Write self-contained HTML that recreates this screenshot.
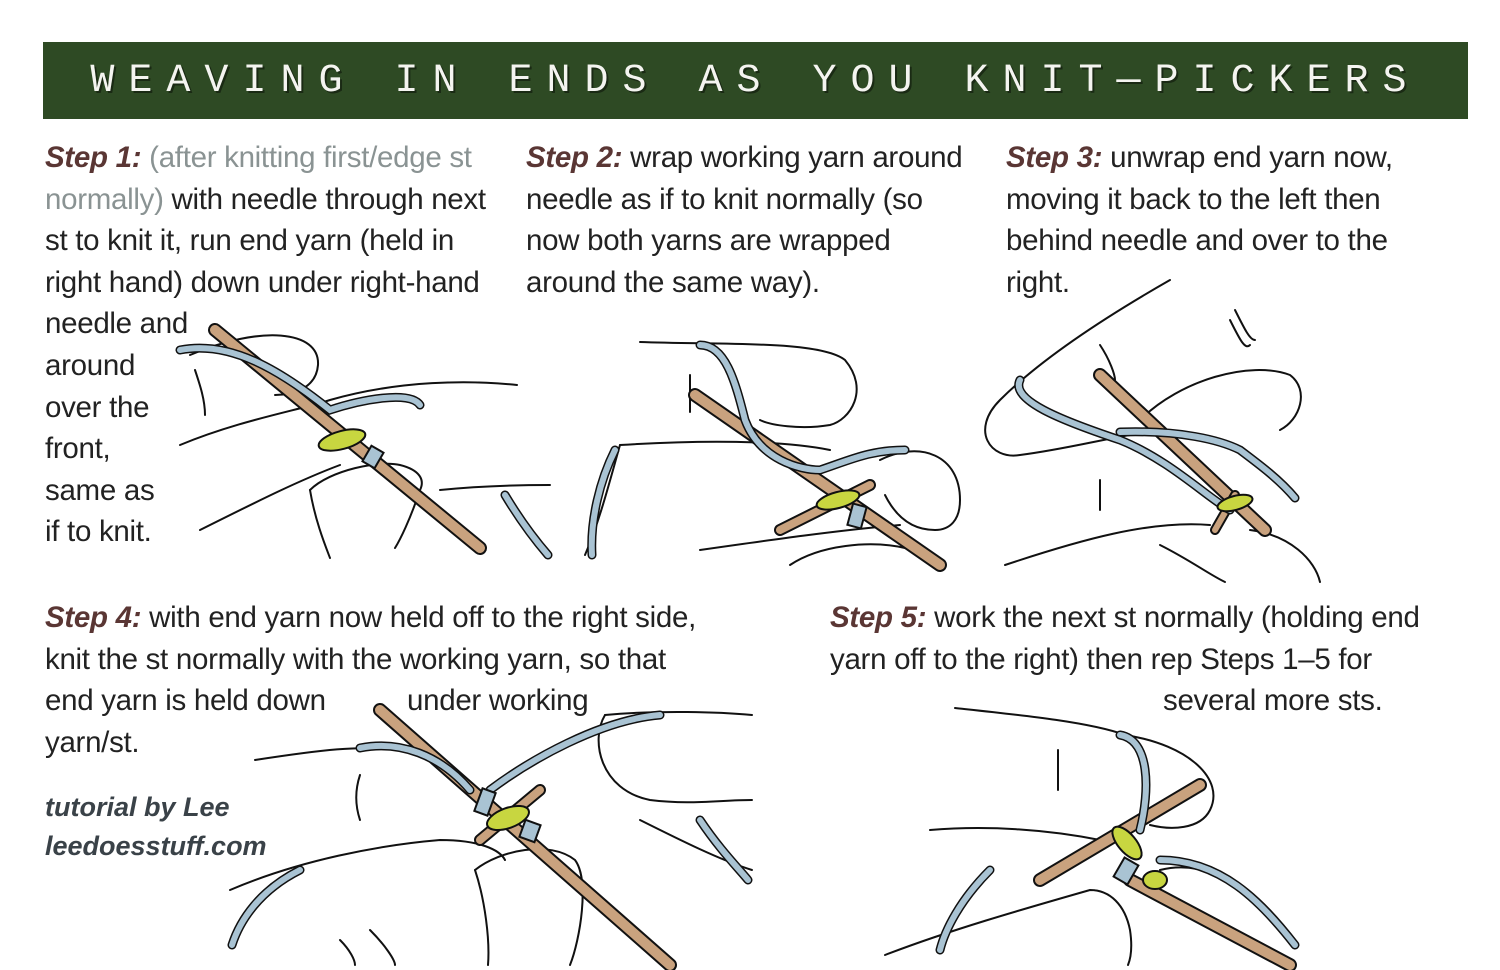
<!DOCTYPE html>
<html><head><meta charset="utf-8">
<style>
html,body{margin:0;padding:0;background:#fff;}
body{width:1500px;height:970px;position:relative;overflow:hidden;font-family:"Liberation Sans Narrow","Liberation Sans",sans-serif;}
.hdr{position:absolute;left:43px;top:42px;width:1425px;height:77px;background:#2e4a24;}
.title{position:absolute;left:43px;top:57px;width:1425px;text-align:center;color:#f4f4f0;font-family:"Liberation Mono",monospace;font-size:40px;letter-spacing:14px;line-height:50px;font-weight:normal;text-shadow:2px 2px 0 #1a2a14;}
.l{position:absolute;font-size:29.5px;letter-spacing:-0.3px;color:#222;white-space:nowrap;line-height:36px;}
.s{font-weight:bold;font-style:italic;color:#5a3634;}
.g{color:#8a9393;}
.cr{position:absolute;font-size:27px;font-weight:bold;font-style:italic;color:#3a4248;font-family:"Liberation Sans",sans-serif;}
svg{position:absolute;left:0;top:0;}
</style></head><body>
<div class="hdr"></div>
<div class="title">WEAVING IN ENDS AS YOU KNIT—PICKERS</div>

<div class="l" style="left:45px;top:140px"><span class="s">Step 1:</span> <span class="g">(after knitting first/edge st</span></div>
<div class="l" style="left:45px;top:182px"><span class="g">normally)</span> with needle through next</div>
<div class="l" style="left:45px;top:223px">st to knit it, run end yarn (held in</div>
<div class="l" style="left:45px;top:265px">right hand) down under right-hand</div>
<div class="l" style="left:45px;top:306px">needle and</div>
<div class="l" style="left:45px;top:348px">around</div>
<div class="l" style="left:45px;top:390px">over the</div>
<div class="l" style="left:45px;top:431px">front,</div>
<div class="l" style="left:45px;top:473px">same as</div>
<div class="l" style="left:45px;top:514px">if to knit.</div>

<div class="l" style="left:526px;top:140px"><span class="s">Step 2:</span> wrap working yarn around</div>
<div class="l" style="left:526px;top:182px">needle as if to knit normally (so</div>
<div class="l" style="left:526px;top:223px">now both yarns are wrapped</div>
<div class="l" style="left:526px;top:265px">around the same way).</div>

<div class="l" style="left:1006px;top:140px"><span class="s">Step 3:</span> unwrap end yarn now,</div>
<div class="l" style="left:1006px;top:182px">moving it back to the left then</div>
<div class="l" style="left:1006px;top:223px">behind needle and over to the</div>
<div class="l" style="left:1006px;top:265px">right.</div>

<div class="l" style="left:45px;top:600px"><span class="s">Step 4:</span> with end yarn now held off to the right side,</div>
<div class="l" style="left:45px;top:642px">knit the st normally with the working yarn, so that</div>
<div class="l" style="left:45px;top:683px">end yarn is held down</div>
<div class="l" style="left:407px;top:683px">under working</div>
<div class="l" style="left:45px;top:725px">yarn/st.</div>

<div class="l" style="left:830px;top:600px"><span class="s">Step 5:</span> work the next st normally (holding end</div>
<div class="l" style="left:830px;top:642px">yarn off to the right) then rep Steps 1–5 for</div>
<div class="l" style="left:1163px;top:683px">several more sts.</div>

<div class="cr" style="left:45px;top:792px">tutorial by Lee</div>
<div class="cr" style="left:45px;top:831px">leedoesstuff.com</div>

<svg width="1500" height="970" viewBox="0 0 1500 970" fill="none" stroke="#111" stroke-width="2" stroke-linecap="round">
<!-- Step 1 -->
<path d="M190 355 C260 325 320 330 318 365 C316 390 290 395 275 395"/>
<path d="M195 370 C200 385 205 400 205 415"/>
<path d="M180 445 C240 420 300 410 330 400 C400 380 470 380 517 385"/>
<path d="M200 530 C260 500 300 480 340 465"/>
<path d="M310 490 C330 470 380 460 400 465 C420 470 425 480 420 490 C410 520 400 540 395 548"/>
<path d="M310 490 C315 520 325 545 330 558"/>
<path d="M440 490 C490 485 530 485 550 485"/>
<g><line x1="215" y1="330" x2="480" y2="548" stroke="#111" stroke-width="14"/><line x1="215" y1="330" x2="480" y2="548" stroke="#c9a27e" stroke-width="10"/></g>
<path d="M180 350 C230 340 280 370 330 410 C360 400 410 390 420 405" stroke="#111" stroke-width="9"/>
<path d="M180 350 C230 340 280 370 330 410 C360 400 410 390 420 405" stroke="#a9c3d3" stroke-width="6"/>
<path d="M505 495 C520 520 535 540 548 555" stroke="#111" stroke-width="9"/>
<path d="M505 495 C520 520 535 540 548 555" stroke="#a9c3d3" stroke-width="6"/>
<ellipse cx="342" cy="440" rx="24" ry="9" fill="#c8d640" transform="rotate(-15 342 440)"/>
<rect x="366" y="448" width="14" height="18" fill="#a9c3d3" transform="rotate(30 373 457)"/>
<!-- Step 2 -->
<path d="M640 342 C720 345 820 340 845 360 C870 390 850 420 830 425 C800 430 770 425 760 420"/>
<path d="M690 375 L690 412"/>
<path d="M585 555 C600 520 610 480 620 445 C700 440 780 440 830 450"/>
<path d="M880 460 C920 440 960 455 960 500 C960 520 950 530 935 530 C910 530 895 515 885 495"/>
<path d="M700 550 C770 540 840 530 900 525"/>
<path d="M790 565 C820 545 870 540 905 548"/>
<g><line x1="695" y1="395" x2="940" y2="565" stroke="#111" stroke-width="14"/><line x1="695" y1="395" x2="940" y2="565" stroke="#c9a27e" stroke-width="10"/></g>
<line x1="870" y1="485" x2="780" y2="530" stroke="#111" stroke-width="12"/><line x1="870" y1="485" x2="780" y2="530" stroke="#c9a27e" stroke-width="8"/>
<path d="M700 345 C725 345 735 380 745 420 C760 460 800 470 820 470 C850 460 870 450 905 450" stroke="#111" stroke-width="9"/>
<path d="M700 345 C725 345 735 380 745 420 C760 460 800 470 820 470 C850 460 870 450 905 450" stroke="#a9c3d3" stroke-width="6"/>
<path d="M615 450 C600 480 590 520 592 555" stroke="#111" stroke-width="9"/><path d="M615 450 C600 480 590 520 592 555" stroke="#a9c3d3" stroke-width="6"/>
<ellipse cx="838" cy="500" rx="22" ry="8" fill="#c8d640" transform="rotate(-15 838 500)"/>
<rect x="850" y="505" width="14" height="22" fill="#a9c3d3" transform="rotate(15 857 516)"/>
<!-- Step 3 -->
<path d="M1170 280 C1100 320 1040 360 1000 400 C970 430 990 460 1020 455 C1060 450 1100 440 1130 435"/>
<path d="M1100 345 C1110 360 1115 375 1115 380"/>
<path d="M1230 320 C1240 340 1245 350 1250 345 M1235 310 C1245 330 1250 340 1255 340"/>
<path d="M1140 420 C1180 380 1250 360 1290 375 C1310 390 1300 420 1280 430"/>
<path d="M1005 565 C1080 540 1150 520 1210 525"/>
<path d="M1100 510 L1100 480"/>
<path d="M1250 530 C1290 535 1315 560 1320 582"/>
<path d="M1160 545 C1190 560 1210 575 1225 582"/>
<g><line x1="1100" y1="375" x2="1265" y2="530" stroke="#111" stroke-width="14"/><line x1="1100" y1="375" x2="1265" y2="530" stroke="#c9a27e" stroke-width="10"/></g>
<path d="M1235 495 L1215 530" stroke="#111" stroke-width="10"/><path d="M1235 495 L1215 530" stroke="#c9a27e" stroke-width="6"/>
<path d="M1020 380 C1010 400 1060 420 1120 440 C1170 460 1210 500 1230 510" stroke="#111" stroke-width="9"/>
<path d="M1020 380 C1010 400 1060 420 1120 440 C1170 460 1210 500 1230 510" stroke="#a9c3d3" stroke-width="6"/>
<path d="M1120 432 C1180 430 1220 440 1240 450 C1260 465 1280 480 1295 498" stroke="#111" stroke-width="9"/>
<path d="M1120 432 C1180 430 1220 440 1240 450 C1260 465 1280 480 1295 498" stroke="#a9c3d3" stroke-width="6"/>
<ellipse cx="1235" cy="503" rx="18" ry="7" fill="#c8d640" transform="rotate(-15 1235 503)"/>
<!-- Step 4 -->
<path d="M255 760 C320 750 360 745 400 750"/>
<path d="M360 775 C355 790 355 805 360 820"/>
<path d="M605 715 C660 710 720 712 752 715"/>
<path d="M605 715 C590 740 600 790 650 800 C690 805 720 800 752 800"/>
<path d="M230 890 C300 860 380 845 440 840 C480 840 500 850 505 860"/>
<path d="M475 870 C500 850 550 840 575 860 C590 880 580 940 570 965"/>
<path d="M475 870 C485 900 490 940 488 965"/>
<path d="M340 940 C350 950 355 960 355 965 M370 930 C385 945 395 960 395 965"/>
<path d="M640 820 C680 840 720 860 752 870"/>
<g><line x1="380" y1="710" x2="670" y2="965" stroke="#111" stroke-width="14"/><line x1="380" y1="710" x2="670" y2="965" stroke="#c9a27e" stroke-width="10"/></g>
<line x1="540" y1="790" x2="480" y2="840" stroke="#111" stroke-width="12"/><line x1="540" y1="790" x2="480" y2="840" stroke="#c9a27e" stroke-width="8"/>
<path d="M490 790 C530 760 600 720 660 715" stroke="#111" stroke-width="9"/><path d="M490 790 C530 760 600 720 660 715" stroke="#a9c3d3" stroke-width="6"/>
<path d="M360 748 C400 740 440 755 470 790" stroke="#111" stroke-width="9"/><path d="M360 748 C400 740 440 755 470 790" stroke="#a9c3d3" stroke-width="6"/>
<path d="M300 870 C260 890 240 920 232 945" stroke="#111" stroke-width="9"/><path d="M300 870 C260 890 240 920 232 945" stroke="#a9c3d3" stroke-width="6"/>
<path d="M700 820 C720 850 740 870 748 880" stroke="#111" stroke-width="9"/><path d="M700 820 C720 850 740 870 748 880" stroke="#a9c3d3" stroke-width="6"/>
<ellipse cx="508" cy="818" rx="22" ry="10" fill="#c8d640" stroke="#111" transform="rotate(-20 508 818)"/>
<rect x="478" y="790" width="14" height="24" fill="#a9c3d3" transform="rotate(20 485 802)"/>
<rect x="522" y="822" width="16" height="18" fill="#a9c3d3" transform="rotate(20 530 831)"/>
<!-- Step 5 -->
<path d="M955 708 C1020 715 1090 722 1125 735 C1190 745 1225 780 1210 810 C1200 830 1170 830 1150 825"/>
<path d="M1058 750 L1058 790"/>
<path d="M930 830 C990 825 1050 830 1100 840"/>
<path d="M885 955 C950 930 1020 910 1090 890 C1110 890 1125 905 1130 930 C1133 950 1130 960 1128 965"/>
<path d="M1160 870 C1200 860 1230 880 1255 900"/>
<g><line x1="1200" y1="785" x2="1040" y2="880" stroke="#111" stroke-width="14"/><line x1="1200" y1="785" x2="1040" y2="880" stroke="#c9a27e" stroke-width="10"/></g>
<g><line x1="1130" y1="880" x2="1290" y2="965" stroke="#111" stroke-width="14"/><line x1="1130" y1="880" x2="1290" y2="965" stroke="#c9a27e" stroke-width="10"/></g>
<path d="M1120 735 C1150 740 1150 790 1140 830" stroke="#111" stroke-width="9"/><path d="M1120 735 C1150 740 1150 790 1140 830" stroke="#a9c3d3" stroke-width="6"/>
<path d="M1160 860 C1220 860 1260 900 1295 945" stroke="#111" stroke-width="9"/><path d="M1160 860 C1220 860 1260 900 1295 945" stroke="#a9c3d3" stroke-width="6"/>
<path d="M990 870 C960 900 945 930 940 950" stroke="#111" stroke-width="9"/><path d="M990 870 C960 900 945 930 940 950" stroke="#a9c3d3" stroke-width="6"/>
<ellipse cx="1127" cy="843" rx="20" ry="9" fill="#c8d640" stroke="#111" transform="rotate(50 1127 843)"/>
<ellipse cx="1155" cy="880" rx="12" ry="9" fill="#c8d640" stroke="#111"/>
<rect x="1118" y="860" width="16" height="22" fill="#a9c3d3" transform="rotate(30 1126 871)"/>
</svg>
</body></html>
